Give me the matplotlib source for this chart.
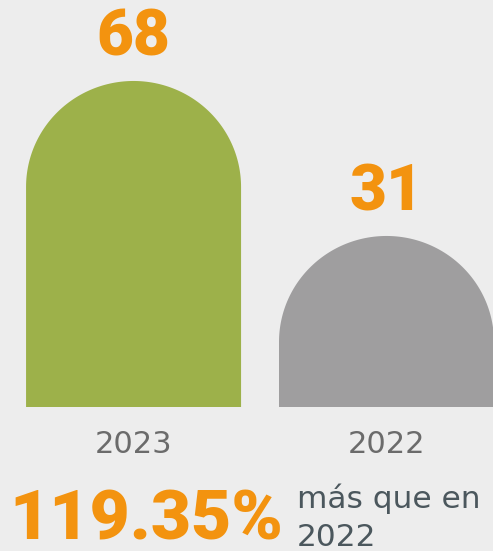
import matplotlib
matplotlib.use('Agg')
import matplotlib.pyplot as plt
from matplotlib.patches import Polygon
import matplotlib.transforms as mtransforms
import numpy as np

# data
years = ['2023', '2022']
values = [68, 31]
bar_colors = ['#9db14a', '#9f9e9f']
pct_text = '119.35%'
note_lines = ['más que en', '2022']

BG = '#ededed'
ORANGE = '#f3930f'

plt.rcParams['font.family'] = ['Roboto', 'DejaVu Sans']

fig = plt.figure(figsize=(4.93, 5.51), dpi=100)
fig.patch.set_facecolor(BG)

# bar axes: spans full width, bottom at the bar base
ax = fig.add_axes([0, (551 - 407) / 551, 1, 407 / 551])
ax.set_facecolor(BG)
ax.set_xlim(-0.528, 1.421)
ax.set_ylim(-9.83, 87.33)
ax.axis('off')

width = 0.85
cap_h = 25.3  # height of the rounded top in data units
trans = mtransforms.blended_transform_factory(ax.transData, ax.transAxes)
for i, (v, c) in enumerate(zip(values, bar_colors)):
    y0 = ax.get_ylim()[0]
    t = np.linspace(0, np.pi, 120)
    xs = i + (width / 2) * np.cos(t)
    ys = (v - cap_h) + cap_h * np.sin(t)
    pts = [(i + width / 2, y0)] + list(zip(xs, ys)) + [(i - width / 2, y0)]
    ax.add_patch(Polygon(pts, closed=True, facecolor=c, edgecolor='none'))

    ax.annotate(str(v), (i, v), xytext=(0, 18), textcoords='offset points',
                ha='center', va='baseline', fontsize=46, fontweight='heavy',
                color=ORANGE)

    ax.annotate(years[i], (i, 0), xycoords=trans, xytext=(0, -33),
                textcoords='offset points', ha='center', va='baseline',
                fontsize=22, color='#6b6b6b', family='DejaVu Sans')

fig.text(9 / 493, (551 - 540) / 551, pct_text, ha='left', va='baseline',
         fontsize=50, fontweight='heavy', color=ORANGE)
fig.text(297 / 493, (551 - 508) / 551, note_lines[0], ha='left', va='baseline',
         fontsize=22.5, color='#4b575d', family='DejaVu Sans')
fig.text(297 / 493, (551 - 546) / 551, note_lines[1], ha='left', va='baseline',
         fontsize=22.5, color='#4b575d', family='DejaVu Sans')

fig.savefig('out.png', dpi=100, facecolor=BG)
plt.close()
